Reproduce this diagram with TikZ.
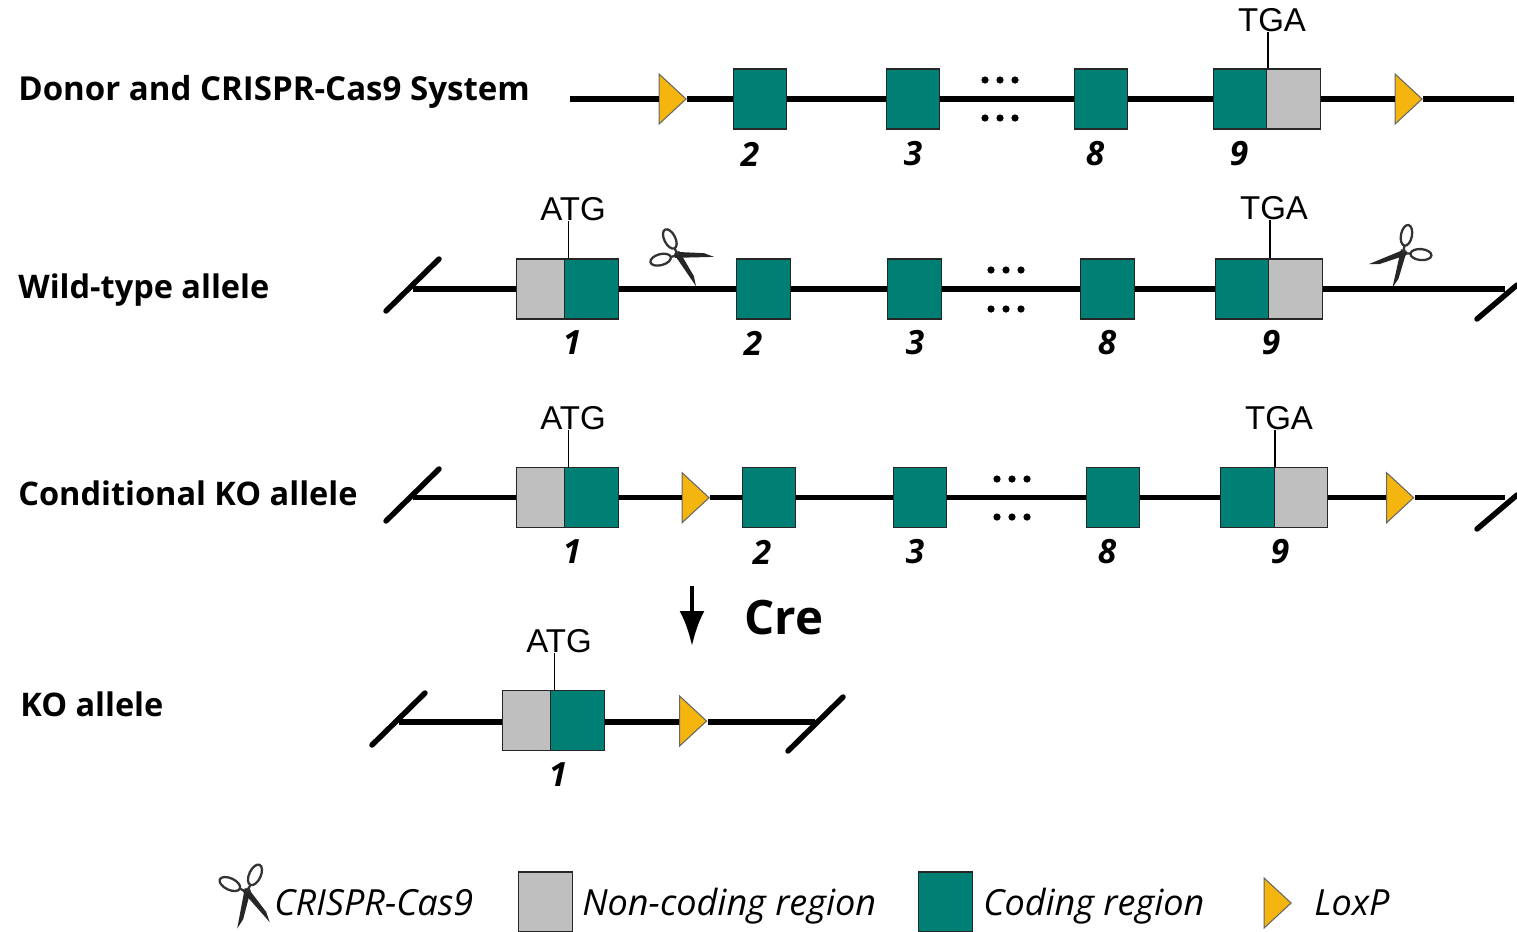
\documentclass[tikz,border=0pt]{standalone}
\usepackage{fontspec}
\setmainfont{Open Sans}
\newfontfamily\arialfont{Liberation Sans}
\usetikzlibrary{shapes.geometric,arrows.meta}
\definecolor{tealExon}{HTML}{008075}
\definecolor{grayExon}{HTML}{BFBFBF}
\definecolor{yellowLox}{HTML}{F5B50F}
\tikzset{
  pics/scissors/.style n args={4}{code={
    \foreach \ang/\hand in {#1/#2,#3/#4}{
      \fill[black!85,rotate=\ang] (-3,-3) -- (26,-3.2) -- (36,0) -- (-3,3) -- cycle;
      \draw[black!80,line width=1.3pt,rotate=\hand] (0,0) -- (8,0) (18,0) ellipse (10.5 and 5.5);
    }
  }}
}
\begin{document}
\begin{tikzpicture}[x=0.02cm,y=-0.02cm]
\tikzstyle{coding}=[fill=tealExon,draw=black!85,minimum width=1.07cm,minimum height=1.2cm,line width=0.8pt,inner sep=0pt]
\tikzstyle{noncoding}=[fill=grayExon,draw=black!85,minimum width=1.07cm,minimum height=1.2cm,line width=0.8pt,inner sep=0pt]
\tikzstyle{lox}=[isosceles triangle,isosceles triangle stretches,fill=yellowLox,draw=black!60,minimum width=1cm,minimum height=0.54cm,line width=0.6pt,inner sep=0pt]
\tikzstyle{rowname}=[anchor=base west,font=\fontsize{18.5}{20}\selectfont\bfseries,inner sep=0pt]
\tikzstyle{exonnum}=[font=\fontsize{19}{20}\selectfont\bfseries\itshape,inner sep=0pt]
\tikzstyle{codon}=[font=\arialfont\fontsize{18.8}{20}\selectfont,inner sep=0pt]
\tikzstyle{legendtext}=[anchor=base west,font=\fontsize{20.5}{22}\selectfont\itshape,inner sep=0pt]
\tikzstyle{dna}=[line width=3.1pt]
\tikzstyle{tick}=[line width=0.8pt]
\useasboundingbox (0,0) rectangle (1517,931);

% donor
\node[rowname,font=\fontsize{18.8}{20}\selectfont\bfseries] (donorName) at (18,100) {Donor and CRISPR-Cas9 System};
\coordinate (donorStart) at (570,99);
\coordinate (donorEnd) at (1514,99);
\node[lox] (donorLoxA) at (670,99) {};
\node[coding] (donorE2) at (760,99) {};
\node[coding] (donorE3) at (913,99) {};
\node[coding] (donorE8) at (1101,99) {};
\node[coding] (donorE9) at (1240.5,99) {};
\node[noncoding] (donorU9) at (1293.5,99) {};
\node[lox] (donorLoxB) at (1406,99) {};
\draw[dna] (donorStart) -- (donorLoxA) -- (donorE2) -- (donorE3) -- (donorE8) -- (donorE9);
\draw[dna] (donorU9) -- (donorLoxB) -- (donorEnd);
\node[exonnum] (donorN2) at (750,154) {2};
\node[exonnum] (donorN3) at (913,154) {3};
\node[exonnum] (donorN8) at (1095,154) {8};
\node[exonnum] (donorN9) at (1239,154) {9};
\node[codon] (donorTGA) at (1272,20) {TGA};
\draw[tick] (donorE9.north east) -- (donorTGA.south -| donorE9.north east);

% wild type
\node[rowname] (wildName) at (18,298) {Wild-type allele};
\coordinate (wildSlashA) at (386,311);
\coordinate (wildSlashB) at (439,259);
\coordinate (wildStart) at (413,289);
\coordinate (wildSlashC) at (1477,319);
\coordinate (wildSlashD) at (1517,285);
\coordinate (wildEnd) at (1505,289);
\node[noncoding,minimum width=0.97cm] (wildU1) at (541,289) {};
\node[coding] (wildE1) at (591.5,289) {};
\node[coding] (wildE2) at (763.5,289) {};
\node[coding] (wildE3) at (914.5,289) {};
\node[coding] (wildE8) at (1107.5,289) {};
\node[coding] (wildE9) at (1242.5,289) {};
\node[noncoding] (wildU9) at (1295.5,289) {};
\draw[dna] (wildStart) -- (wildU1);
\draw[dna] (wildE1) -- (wildE2) -- (wildE3) -- (wildE8) -- (wildE9);
\draw[dna] (wildU9) -- (wildEnd);
\draw[dna,line cap=round] (wildSlashA) -- (wildSlashB);
\draw[dna,line cap=round] (wildSlashC) -- (wildSlashD);
\node[exonnum] (wildN1) at (572,343) {1};
\node[exonnum] (wildN2) at (753,343) {2};
\node[exonnum] (wildN3) at (915,343) {3};
\node[exonnum] (wildN8) at (1107,343) {8};
\node[exonnum] (wildN9) at (1271,343) {9};
\node[codon] (wildATG) at (573,209) {ATG};
\node[codon] (wildTGA) at (1274,208) {TGA};
\coordinate (wildTick) at ([xshift=0.09cm]wildE1.north west);
\draw[tick] (wildTick) -- (wildATG.south -| wildTick);
\draw[tick] (wildE9.north east) -- (wildTGA.south -| wildE9.north east);
\pic at (678,255) {scissors={-3}{195}{-60}{117}};
\pic at (1403,253) {scissors={198}{-5}{253}{79}};

% conditional
\node[rowname] (condName) at (18,505) {Conditional KO allele};
\coordinate (condSlashA) at (386,521);
\coordinate (condSlashB) at (439,469);
\coordinate (condStart) at (413,497.7);
\coordinate (condSlashC) at (1477,529);
\coordinate (condSlashD) at (1517,495);
\coordinate (condEnd) at (1505,497.7);
\node[noncoding,minimum width=0.97cm] (condU1) at (541,497.7) {};
\node[coding] (condE1) at (591.5,497.7) {};
\node[lox] (condLoxA) at (693,497.7) {};
\node[coding] (condE2) at (769,497.7) {};
\node[coding] (condE3) at (920,497.7) {};
\node[coding] (condE8) at (1113,497.7) {};
\node[coding] (condE9) at (1247.5,497.7) {};
\node[noncoding] (condU9) at (1301,497.7) {};
\node[lox] (condLoxB) at (1397.5,497.7) {};
\draw[dna] (condStart) -- (condU1);
\draw[dna] (condE1) -- (condLoxA) -- (condE2) -- (condE3) -- (condE8) -- (condE9);
\draw[dna] (condU9) -- (condLoxB) -- (condEnd);
\draw[dna,line cap=round] (condSlashA) -- (condSlashB);
\draw[dna,line cap=round] (condSlashC) -- (condSlashD);
\node[exonnum] (condN1) at (572,552) {1};
\node[exonnum] (condN2) at (762,552) {2};
\node[exonnum] (condN3) at (915,552) {3};
\node[exonnum] (condN8) at (1107,552) {8};
\node[exonnum] (condN9) at (1280,552) {9};
\node[codon] (condATG) at (573,418) {ATG};
\node[codon] (condTGA) at (1279,418) {TGA};
\coordinate (condTick) at ([xshift=0.09cm]condE1.north west);
\draw[tick] (condTick) -- (condATG.south -| condTick);
\draw[tick] (condE9.north east) -- (condTGA.south -| condE9.north east);

% dots between exons 3 and 8
\foreach \dotx/\doty in {1000/80,1000/118,1006/270,1006/309,1012/479,1012/517}{
  \foreach \dx in {-15,0,15}{
    \fill (\dotx+\dx,\doty) circle (3.6);
  }
}

% cre
\coordinate (creTop) at (692,586);
\coordinate (creBottom) at (692,646);
\draw[-{Latex[length=0.7cm,width=0.5cm]},line width=2.6pt] (creTop) -- (creBottom);
\node[inner sep=0pt,font=\fontsize{27}{30}\selectfont\bfseries] (creName) at (784,618) {Cre};

% knock out
\node[rowname] (koName) at (20,716) {KO allele};
\coordinate (koSlashA) at (372,745);
\coordinate (koSlashB) at (425,693);
\coordinate (koStart) at (399,722);
\coordinate (koSlashC) at (788,751);
\coordinate (koSlashD) at (843,697);
\coordinate (koEnd) at (815,722);
\node[noncoding,minimum width=0.97cm] (koU1) at (527,720.5) {};
\node[coding] (koE1) at (577.5,720.5) {};
\node[lox] (koLox) at (690.5,721) {};
\draw[dna] (koStart) -- (koU1.west |- koStart);
\draw[dna] (koE1.east |- koStart) -- (koLox.west |- koStart);
\draw[dna] (koLox.east |- koStart) -- (koEnd);
\draw[dna,line cap=round] (koSlashA) -- (koSlashB);
\draw[dna,line cap=round] (koSlashC) -- (koSlashD);
\node[exonnum] (koN1) at (558,775) {1};
\node[codon] (koATG) at (559,641) {ATG};
\coordinate (koTick) at ([xshift=0.09cm]koE1.north west);
\draw[tick] (koTick) -- (koATG.south -| koTick);

% legend
\pic[scale=1.05] at (247,892) {scissors={-53}{155}{-105}{65}};
\node[legendtext] (legendCas) at (274,915) {CRISPR-Cas9};
\node[noncoding] (legendGray) at (545.5,902) {};
\node[legendtext] (legendGrayText) at (582,915) {Non-coding region};
\node[coding] (legendTeal) at (945.5,902) {};
\node[legendtext] (legendTealText) at (983,915) {Coding region};
\node[lox] (legendLox) at (1275,903) {};
\node[legendtext] (legendLoxText) at (1314,915) {LoxP};

\end{tikzpicture}
\end{document}
